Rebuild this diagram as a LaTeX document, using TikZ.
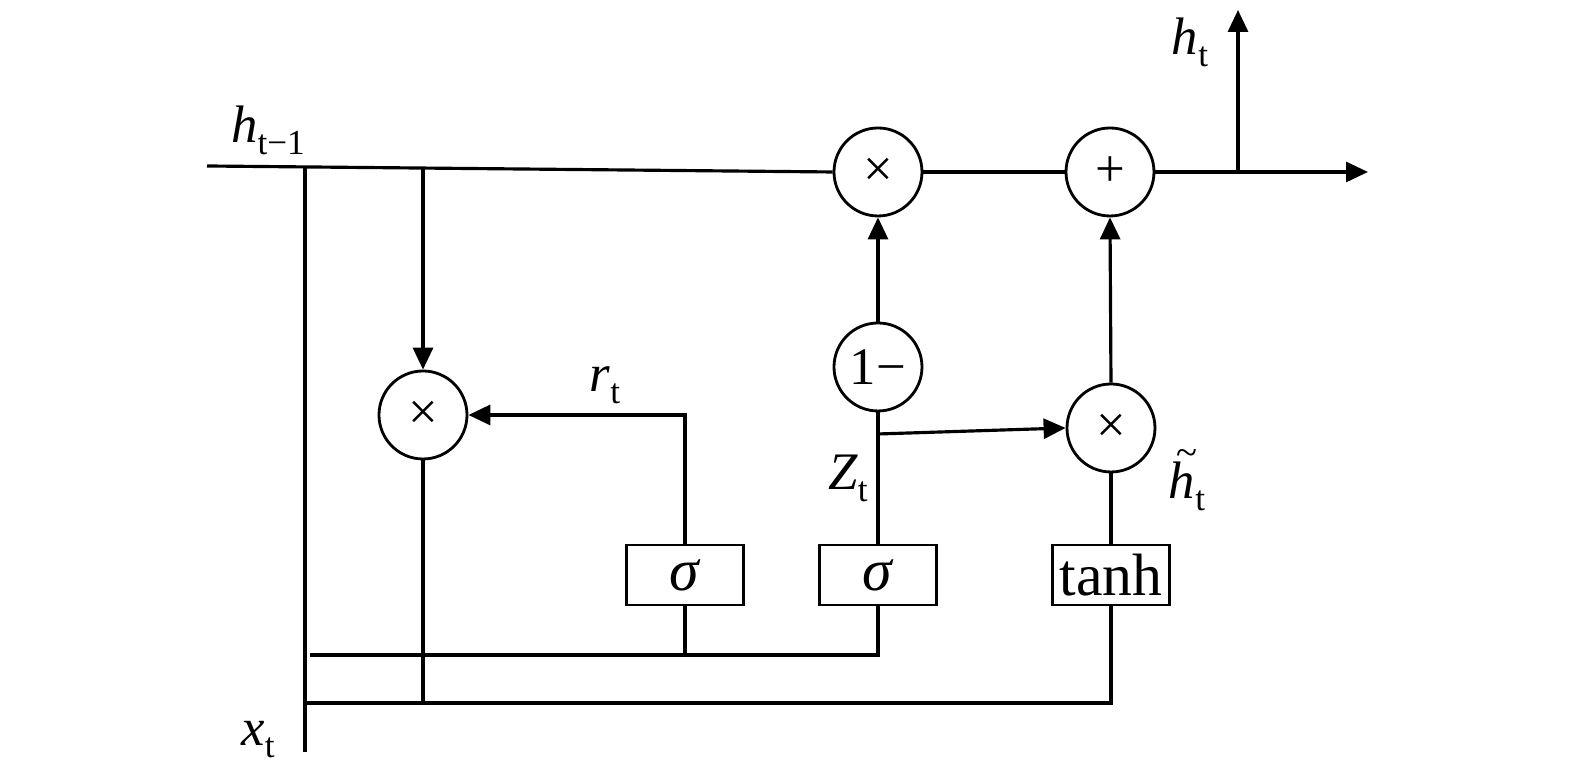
\documentclass[tikz,border=0pt]{standalone}
\usepackage{fontspec}
\setmainfont{Liberation Serif}
\usetikzlibrary{arrows.meta,positioning,calc}
\newcommand\lbl[2]{\textit{#1}\raisebox{-0.5ex}{\fontsize{10}{10}\selectfont #2}}
\newcommand\htld{\rlap{\kern0.14em\raisebox{0.62em}{\fontsize{11}{11}\selectfont\char"7E}}\textit{h}}

\begin{document}
\begin{tikzpicture}[
    op/.style={draw,circle,line width=0.8pt,minimum size=0.88cm,inner sep=0pt,font=\fontsize{15}{15}\selectfont},
    gate/.style={draw,line width=0.8pt,minimum width=1.17cm,minimum height=0.6cm,inner sep=0pt,font=\fontsize{17}{17}\selectfont},
    txt/.style={font=\fontsize{15}{15}\selectfont,inner sep=0pt},
    wire/.style={line width=0.9pt},
    >={Triangle[length=0.22cm,width=0.2cm]}
]
\useasboundingbox (0,0) rectangle (15.75,7.83);
% operators
\node[op] (mulA) at (8.78,6.11) {×};
\node[op] (add) at (11.10,6.11) {+};
\node[op] (mulR) at (4.23,3.68) {×};
\node[op] (onem) at (8.78,4.16) {1−};
\node[op] (mulH) at (11.11,3.55) {×};
% gates
\node[gate] (sigR) at (6.85,2.08) {\textit{σ}};
\node[gate] (sigZ) at (8.78,2.08) {\textit{σ}};
\node[gate] (tanh) at (11.11,2.08) {tanh};
% helper points
\coordinate (hin) at (2.07,6.17);
\coordinate (j1) at (3.05,6.16);
\coordinate (j2) at (4.23,6.15);
\coordinate (xend) at (3.05,0.31);
\coordinate (hout) at (13.68,6.11);
\coordinate (hup) at (12.38,6.11);
\coordinate (htop) at (12.38,7.73);
\coordinate (zj) at (8.78,3.49);
% labels
\node[txt] (lhin) at (2.68,6.53) {\lbl{h}{t−1}};
\node[txt] (lhout) at (11.90,7.41) {\lbl{h}{t}};
\node[txt] (lr) at (6.05,3.98) {\lbl{r}{t}};
\node[txt] (lz) at (8.48,3.05) {\lbl{Z}{t}};
\node[txt] (lht) at (11.87,3.03) {\htld\raisebox{-0.5ex}{\fontsize{10}{10}\selectfont t}};
\node[txt] (lx) at (2.58,0.43) {\lbl{x}{t}};
% hidden state path
\draw[wire] (hin) -- (mulA.west);
\draw[wire] (mulA) -- (add);
\draw[wire,->] (add) -- (hout);
\draw[wire,->] (hup) -- (htop);
\draw[wire,->] (j2) -- (mulR.north);
% input lines
\draw[wire] (j1) -- (xend);
\draw[wire] (3.05,0.80) -| (tanh.south);
\draw[wire] (mulR.south) -- (4.23,0.80);
\draw[wire] (3.10,1.28) -| (sigZ.south);
\draw[wire] (sigR.south) -- (6.85,1.28);
% gates to operators
\draw[wire,->] (sigR.north) |- (mulR.east);
\draw[wire] (sigZ.north) -- (onem.south);
\draw[wire,->] (onem.north) -- (mulA.south);
\draw[wire,->] (zj) -- (mulH.west);
\draw[wire] (tanh.north) -- (mulH.south);
\draw[wire,->] (mulH.north) -- (add.south);
\end{tikzpicture}
\end{document}
